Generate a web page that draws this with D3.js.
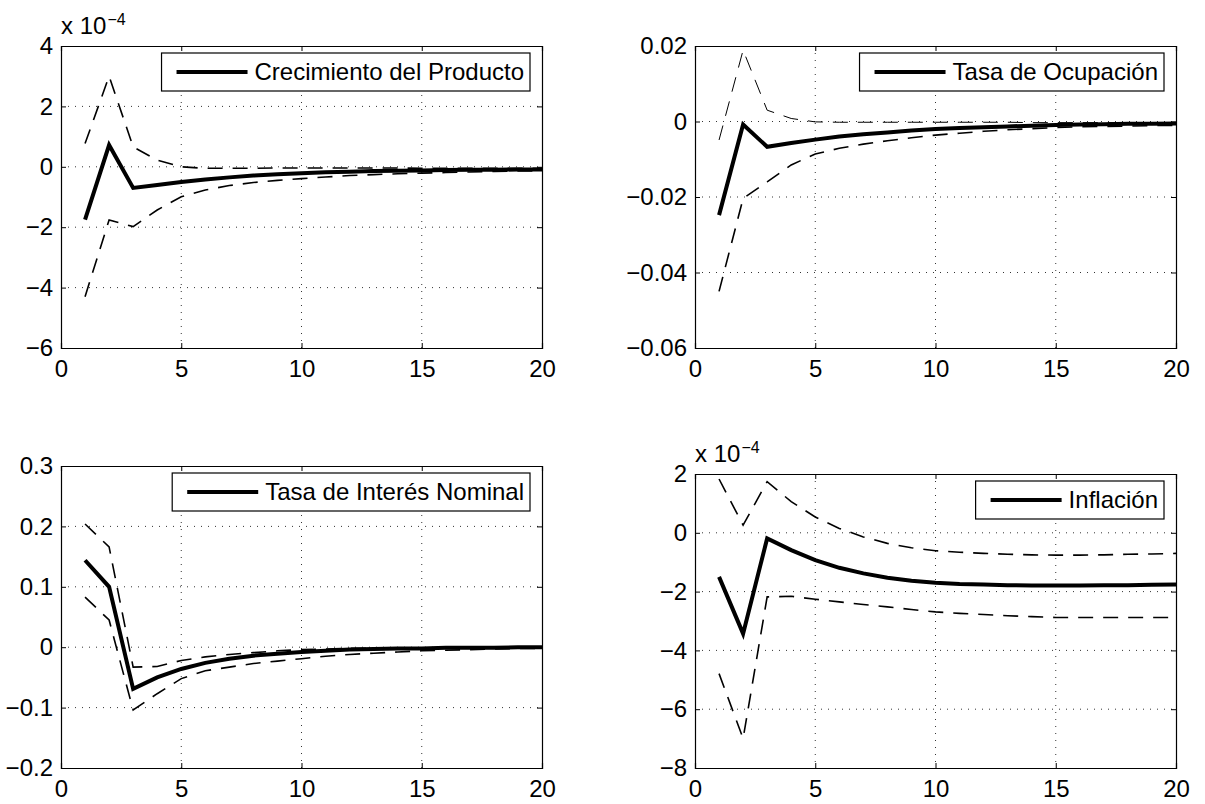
<!DOCTYPE html>
<html>
<head>
<meta charset="utf-8">
<script src="https://cdn.jsdelivr.net/npm/d3@7"></script>
<style>
  body { margin: 0; background: #fff; }
  svg text { font-family: "Liberation Sans", Arial, Helvetica, sans-serif; fill: #000; }
</style>
</head>
<body>
<div id="chart"></div>
<script>
var svgWidth = 1205;
var svgHeight = 804;

var periods = d3.range(1, 21);

// Crecimiento del Producto (x 10^-4)
var prodMid = [-1.75, 0.72, -0.70, -0.60, -0.50, -0.42, -0.35, -0.29, -0.25, -0.21, -0.18, -0.16, -0.14, -0.13, -0.12, -0.11, -0.10, -0.10, -0.09, -0.09];
var prodUp  = [0.77, 3.00, 0.66, 0.22, 0.00, -0.05, -0.05, -0.05, -0.04, -0.04, -0.04, -0.04, -0.04, -0.04, -0.05, -0.05, -0.05, -0.05, -0.05, -0.05];
var prodLow = [-4.30, -1.76, -1.98, -1.43, -0.99, -0.77, -0.62, -0.52, -0.45, -0.39, -0.34, -0.29, -0.26, -0.23, -0.21, -0.19, -0.17, -0.15, -0.14, -0.13];

// Tasa de Ocupacion
var ocupMid = [-0.0248, -0.0008, -0.0067, -0.0057, -0.0048, -0.0040, -0.0034, -0.0029, -0.0024, -0.0020, -0.0017, -0.0015, -0.0013, -0.0011, -0.0009, -0.0008, -0.0007, -0.0006, -0.0006, -0.0005];
var ocupUp  = [-0.0049, 0.0189, 0.0030, 0.0008, -0.0001, -0.0002, -0.0002, -0.0002, -0.0002, -0.0002, -0.0002, -0.0002, -0.0002, -0.0003, -0.0003, -0.0003, -0.0003, -0.0003, -0.0003, -0.0003];
var ocupLow = [-0.0450, -0.0204, -0.0160, -0.0115, -0.0086, -0.0071, -0.0060, -0.0051, -0.0043, -0.0036, -0.0031, -0.0026, -0.0022, -0.0019, -0.0016, -0.0014, -0.0013, -0.0012, -0.0011, -0.0010];

// Tasa de Interes Nominal
var tasaMid = [0.144, 0.100, -0.069, -0.050, -0.036, -0.026, -0.019, -0.014, -0.011, -0.008, -0.006, -0.004, -0.003, -0.002, -0.002, -0.001, -0.001, -0.001, 0.000, 0.000];
var tasaUp  = [0.204, 0.166, -0.033, -0.032, -0.022, -0.016, -0.012, -0.009, -0.006, -0.004, -0.003, -0.002, -0.002, -0.001, -0.001, -0.001, 0.000, 0.000, 0.000, 0.000];
var tasaLow = [0.083, 0.045, -0.104, -0.077, -0.052, -0.039, -0.033, -0.027, -0.023, -0.019, -0.015, -0.012, -0.010, -0.008, -0.006, -0.005, -0.004, -0.003, -0.002, -0.002];

// Inflacion (x 10^-4)
var inflMid = [-1.50, -3.43, -0.19, -0.59, -0.93, -1.19, -1.38, -1.53, -1.63, -1.70, -1.74, -1.76, -1.78, -1.79, -1.79, -1.79, -1.78, -1.78, -1.77, -1.76];
var inflUp  = [1.83, 0.26, 1.74, 1.06, 0.54, 0.15, -0.14, -0.36, -0.51, -0.61, -0.66, -0.70, -0.73, -0.75, -0.76, -0.76, -0.75, -0.73, -0.72, -0.70];
var inflLow = [-4.79, -7.00, -2.18, -2.16, -2.26, -2.35, -2.44, -2.52, -2.61, -2.69, -2.74, -2.78, -2.82, -2.85, -2.88, -2.88, -2.88, -2.88, -2.88, -2.88];

var xTicks = [0, 5, 10, 15, 20];
var prodTicks = [-6, -4, -2, 0, 2, 4];
var ocupTicks = [-0.06, -0.04, -0.02, 0, 0.02];
var tasaTicks = [-0.2, -0.1, 0, 0.1, 0.2, 0.3];
var inflTicks = [-8, -6, -4, -2, 0, 2];

var panels = [
    { name: "Crecimiento del Producto", mid: prodMid, up: prodUp, low: prodLow, ticks: prodTicks, expo: true,
      left: 61, top: 46, right: 542, bottom: 348, upWidth: 1.6 },
    { name: "Tasa de Ocupación", mid: ocupMid, up: ocupUp, low: ocupLow, ticks: ocupTicks, expo: false,
      left: 695, top: 46, right: 1176, bottom: 348, upWidth: 1 },
    { name: "Tasa de Interés Nominal", mid: tasaMid, up: tasaUp, low: tasaLow, ticks: tasaTicks, expo: false,
      left: 61, top: 466, right: 542, bottom: 768, upWidth: 1.6 },
    { name: "Inflación", mid: inflMid, up: inflUp, low: inflLow, ticks: inflTicks, expo: true,
      left: 695, top: 474, right: 1176, bottom: 768, upWidth: 1.6 }
];

var svg = d3.select("#chart")
    .append("svg")
    .attr("width", svgWidth)
    .attr("height", svgHeight);

svg.append("rect").attr("width", svgWidth).attr("height", svgHeight).attr("fill", "#fff");

var fmt = d3.format("");

panels.forEach(function (p) {
    var width = p.right - p.left;
    var height = p.bottom - p.top;
    var g = svg.append("g").attr("transform", `translate(${p.left}, ${p.top})`);

    var x = d3.scaleLinear().domain([0, 20]).range([0, width]);
    var y = d3.scaleLinear().domain(d3.extent(p.ticks)).range([height, 0]);

    // grid
    g.selectAll(".vgrid").data(xTicks.slice(1, -1)).enter().append("line")
        .attr("x1", d => x(d)).attr("x2", d => x(d))
        .attr("y1", 0).attr("y2", height)
        .attr("stroke", "#000").attr("stroke-width", 0.8)
        .attr("stroke-dasharray", "1,6");
    g.selectAll(".hgrid").data(p.ticks.slice(1, -1)).enter().append("line")
        .attr("x1", 0).attr("x2", width)
        .attr("y1", d => y(d)).attr("y2", d => y(d))
        .attr("stroke", "#000").attr("stroke-width", 0.8)
        .attr("stroke-dasharray", "1,6");

    // lines
    var line = d3.line().x((d, i) => x(periods[i])).y(d => y(d));
    g.append("path").datum(p.up).attr("d", line)
        .attr("fill", "none").attr("stroke", "#000").attr("stroke-width", p.upWidth)
        .attr("stroke-dasharray", "15,10");
    g.append("path").datum(p.low).attr("d", line)
        .attr("fill", "none").attr("stroke", "#000").attr("stroke-width", 1.6)
        .attr("stroke-dasharray", "15,10");
    g.append("path").datum(p.mid).attr("d", line)
        .attr("fill", "none").attr("stroke", "#000").attr("stroke-width", 4)
        .attr("stroke-linejoin", "miter");

    // axes (inward ticks on all four sides)
    var bottomAxis = d3.axisBottom(x).tickValues(xTicks).tickSize(-5).tickPadding(12).tickFormat(fmt);
    var topAxis = d3.axisTop(x).tickValues(xTicks).tickSize(-5).tickFormat("");
    var leftAxis = d3.axisLeft(y).tickValues(p.ticks).tickSize(-5).tickPadding(8).tickFormat(fmt);
    var rightAxis = d3.axisRight(y).tickValues(p.ticks).tickSize(-5).tickFormat("");

    var axes = [
        g.append("g").attr("transform", `translate(0, ${height})`).call(bottomAxis),
        g.append("g").call(topAxis),
        g.append("g").call(leftAxis),
        g.append("g").attr("transform", `translate(${width}, 0)`).call(rightAxis)
    ];
    axes.forEach(function (a) {
        a.select(".domain").attr("stroke", "#000").attr("stroke-width", 1.2);
        a.selectAll(".tick line").attr("stroke", "#000").attr("stroke-width", 1);
        a.selectAll("text").style("font-size", "24px").attr("fill", "#000");
    });

    // exponent label
    if (p.expo) {
        var t = g.append("text").attr("x", 0).attr("y", -12).style("font-size", "24px");
        t.append("tspan").text("x 10");
        t.append("tspan").attr("dx", 1).attr("dy", -9).style("font-size", "16px").text("\u22124");
    }

    // legend
    var leg = g.append("g");
    var box = leg.append("rect").attr("y", 7).attr("height", 38)
        .attr("fill", "#fff").attr("stroke", "#000").attr("stroke-width", 1.2);
    var label = leg.append("text").attr("y", 34).style("font-size", "24px").text(p.name);
    var legW = 99 + label.node().getComputedTextLength();
    var lx = width - 12 - legW;
    box.attr("x", lx).attr("width", legW);
    label.attr("x", lx + 93);
    leg.append("line").attr("x1", lx + 15).attr("x2", lx + 86).attr("y1", 26).attr("y2", 26)
        .attr("stroke", "#000").attr("stroke-width", 4);
});
</script>
</body>
</html>
